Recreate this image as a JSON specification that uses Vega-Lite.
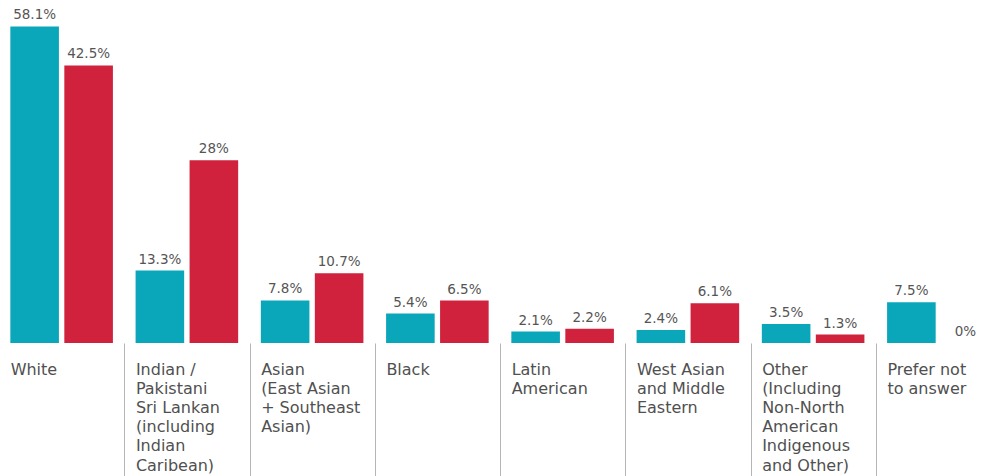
{
  "$schema": "https://vega.github.io/schema/vega-lite/v6.json",
  "autosize": {"type": "none"},
  "padding": {"left": 0, "top": 0, "right": 0, "bottom": 133},
  "width": 982,
  "height": 343,
  "background": "white",
  "config": {"view": {"stroke": null}, "font": "DejaVu Sans"},
  "data": {
    "values": [
      {"category": "White", "group": "Group A", "value": 58.1, "label": "58.1%"},
      {"category": "White", "group": "Group B", "value": 42.5, "label": "42.5%"},
      {"category": "Indian /|Pakistani|Sri Lankan|(including|Indian|Caribean)", "group": "Group A", "value": 13.3, "label": "13.3%"},
      {"category": "Indian /|Pakistani|Sri Lankan|(including|Indian|Caribean)", "group": "Group B", "value": 28, "label": "28%"},
      {"category": "Asian|(East Asian|+ Southeast|Asian)", "group": "Group A", "value": 7.8, "label": "7.8%"},
      {"category": "Asian|(East Asian|+ Southeast|Asian)", "group": "Group B", "value": 10.7, "label": "10.7%"},
      {"category": "Black", "group": "Group A", "value": 5.4, "label": "5.4%"},
      {"category": "Black", "group": "Group B", "value": 6.5, "label": "6.5%"},
      {"category": "Latin|American", "group": "Group A", "value": 2.1, "label": "2.1%"},
      {"category": "Latin|American", "group": "Group B", "value": 2.2, "label": "2.2%"},
      {"category": "West Asian|and Middle|Eastern", "group": "Group A", "value": 2.4, "label": "2.4%"},
      {"category": "West Asian|and Middle|Eastern", "group": "Group B", "value": 6.1, "label": "6.1%"},
      {"category": "Other|(Including|\u00a0Non-North|American|Indigenous|and Other)", "group": "Group A", "value": 3.5, "label": "3.5%"},
      {"category": "Other|(Including|\u00a0Non-North|American|Indigenous|and Other)", "group": "Group B", "value": 1.3, "label": "1.3%"},
      {"category": "Prefer not|to answer", "group": "Group A", "value": 7.5, "label": "7.5%"},
      {"category": "Prefer not|to answer", "group": "Group B", "value": 0, "label": "0%"}
    ]
  },
  "encoding": {
    "x": {
      "field": "category",
      "type": "nominal",
      "sort": null,
      "scale": {"range": [-1, 1001], "paddingInner": 0, "paddingOuter": 0},
      "axis": {
        "title": null,
        "domain": false,
        "tickBand": "extent",
        "tickSize": 140,
        "tickColor": "#b5b5b5",
        "tickWidth": 1,
        "labelAngle": 0,
        "labelAlign": "left",
        "labelBaseline": "top",
        "labelOffset": -51.5,
        "labelPadding": -122,
        "labelExpr": "split(datum.label, '|')",
        "labelFont": "DejaVu Sans",
        "labelFontSize": 16,
        "labelLineHeight": 19.2,
        "labelColor": "#505050",
        "labelLimit": 0
      }
    },
    "xOffset": {
      "field": "group",
      "type": "nominal",
      "scale": {"domain": ["Group A", "Group B"], "paddingInner": 0.1, "paddingOuter": 0.21}
    }
  },
  "layer": [
    {
      "transform": [{"filter": "datum.group === 'Group A'"}],
      "encoding": {
        "y": {"field": "value", "type": "quantitative", "scale": {"domain": [0, 62.94], "nice": false}, "axis": null}
      },
      "layer": [
        {"mark": {"type": "bar", "color": "#0aa6ba"}},
        {"mark": {"type": "text", "baseline": "alphabetic", "dy": -7, "fontSize": 13.5, "color": "#555555", "font": "DejaVu Sans"}, "encoding": {"text": {"field": "label"}}}
      ]
    },
    {
      "transform": [{"filter": "datum.group === 'Group B'"}],
      "encoding": {
        "y": {"field": "value", "type": "quantitative", "scale": {"domain": [0, 52.53], "nice": false}, "axis": null}
      },
      "layer": [
        {"mark": {"type": "bar", "color": "#d0223d"}},
        {"mark": {"type": "text", "baseline": "alphabetic", "dy": -7, "fontSize": 13.5, "color": "#555555", "font": "DejaVu Sans"}, "encoding": {"text": {"field": "label"}}}
      ]
    }
  ],
  "resolve": {"scale": {"y": "independent"}}
}
